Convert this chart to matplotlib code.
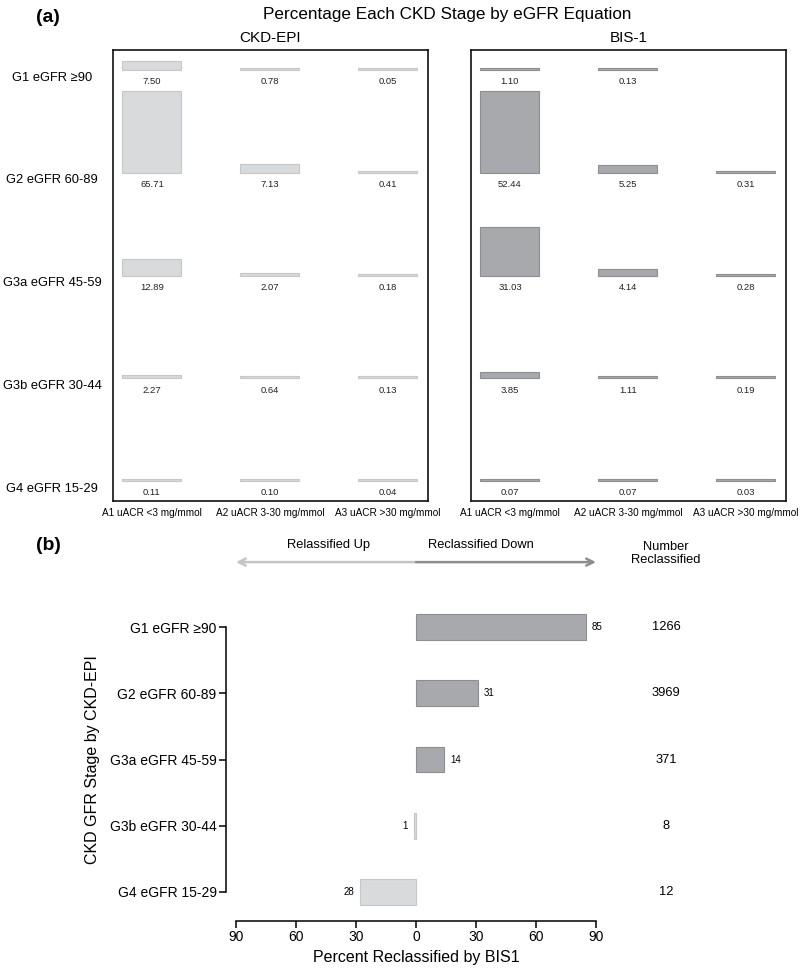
import matplotlib
matplotlib.use("Agg")
import matplotlib.pyplot as plt
import matplotlib.transforms as mtransforms

plt.rcParams['font.family'] = ['Liberation Sans', 'DejaVu Sans']

# data
stages = ["G1 eGFR \u226590", "G2 eGFR 60-89", "G3a eGFR 45-59",
          "G3b eGFR 30-44", "G4 eGFR 15-29"]
acr_labels = ["A1 uACR <3 mg/mmol", "A2 uACR 3-30 mg/mmol", "A3 uACR >30 mg/mmol"]
ckd_epi_pct = [[7.50, 0.78, 0.05],
               [65.71, 7.13, 0.41],
               [12.89, 2.07, 0.18],
               [2.27, 0.64, 0.13],
               [0.11, 0.10, 0.04]]
bis1_pct = [[1.10, 0.13, None],
            [52.44, 5.25, 0.31],
            [31.03, 4.14, 0.28],
            [3.85, 1.11, 0.19],
            [0.07, 0.07, 0.03]]
reclass_pct = [85, 31, 14, -1, -28]
reclass_n = [1266, 3969, 371, 8, 12]

LIGHT, LIGHT_EDGE = "#d9dadc", "#c6c7c9"
DARK, DARK_EDGE = "#a8a9ac", "#8d8e92"

W, H = 800, 968
fig = plt.figure(figsize=(W / 100, H / 100), dpi=100)


def px_box(x0, y0, x1, y1):
    # pixel box (top-left origin) -> figure fraction
    return [x0 / W, (H - y1) / H, (x1 - x0) / W, (y1 - y0) / H]


def grid_panel(ax, values, fill, edge, title):
    nrow = len(values)
    vmax = max(v for row in values for v in row if v is not None)
    scale = 0.8 / vmax
    for i, row in enumerate(values):
        base = nrow - 1 - i
        for j, v in enumerate(row):
            if v is None:
                continue
            h = max(v * scale, 0.018)
            ax.bar(j, h, width=0.5, bottom=base, color=fill, edgecolor=edge,
                   linewidth=0.8)
            ax.text(j, base - 0.115, f"{v:.2f}", ha="center", va="center",
                    fontsize=6.8, color="#222222")
    ax.set_xlim(-0.33, 2.34)
    ax.set_ylim(-0.195, nrow - 1 + 0.195)
    ax.set_xticks([])
    ax.set_yticks([])
    for s in ax.spines.values():
        s.set_linewidth(1.2)
        s.set_color("#111111")
    ax.set_title(title, fontsize=11, pad=6)
    for j, lab in enumerate(acr_labels):
        ax.text(j, -0.31, lab, ha="center", va="center", fontsize=7.2,
                clip_on=False)


ax1 = fig.add_axes(px_box(113, 50, 428, 501))
ax2 = fig.add_axes(px_box(471, 50, 786, 501))
grid_panel(ax1, ckd_epi_pct, LIGHT, LIGHT_EDGE, "CKD-EPI")
grid_panel(ax2, bis1_pct, DARK, DARK_EDGE, "BIS-1")

tr = mtransforms.blended_transform_factory(fig.transFigure, ax1.transData)
for i, lab in enumerate(stages):
    ax1.text(52 / W, len(stages) - 1 - i - 0.075, lab, transform=tr,
             ha="center", va="center", fontsize=9.3)

fig.text(48 / W, 1 - 17 / H, "(a)", fontsize=14, fontweight="bold",
         ha="center", va="center")
fig.text(447 / W, 1 - 14 / H, "Percentage Each CKD Stage by eGFR Equation",
         fontsize=12.3, ha="center", va="center")

# panel (b)
ax3 = fig.add_axes(px_box(236, 600, 596, 910))
ypos = list(range(len(stages) - 1, -1, -1))
colors = [DARK if v > 0 else LIGHT for v in reclass_pct]
edges = [DARK_EDGE if v > 0 else LIGHT_EDGE for v in reclass_pct]
ax3.barh(ypos, reclass_pct, height=0.39, color=colors, edgecolor=edges,
         linewidth=0.8)
for y, v, n in zip(ypos, reclass_pct, reclass_n):
    if v > 0:
        ax3.text(v + 3, y, str(abs(v)), ha="left", va="center", fontsize=7)
    else:
        ax3.text(v - 3, y, str(abs(v)), ha="right", va="center", fontsize=7)
    ax3.text(125, y, str(n), ha="center", va="center", fontsize=9.3,
             clip_on=False)

ax3.set_xlim(-90, 90)
ax3.set_ylim(-0.272, 4.408)
ax3.set_xticks(range(-90, 91, 30))
ax3.set_xticklabels([str(abs(t)) for t in range(-90, 91, 30)], fontsize=10.5)
ax3.set_yticks(ypos)
ax3.set_yticklabels(stages, fontsize=8.4)
ax3.spines["top"].set_visible(False)
ax3.spines["right"].set_visible(False)
ax3.spines["left"].set_position(("outward", 7))
ax3.spines["left"].set_bounds(0, 4)
ax3.spines["bottom"].set_position(("outward", 8))
ax3.spines["bottom"].set_bounds(-90, 90)
for s in ("left", "bottom"):
    ax3.spines[s].set_linewidth(1.1)
ax3.tick_params(axis="both", length=5, width=1.1)
ax3.tick_params(axis="x", pad=1.5)
ax3.tick_params(axis="y", pad=2)
ax3.set_xlabel("Percent Reclassified by BIS1", fontsize=11.5, labelpad=4)

ax3.annotate("", xy=(-90, 4.98), xytext=(0, 4.98), annotation_clip=False,
             arrowprops=dict(arrowstyle="->,head_length=0.5,head_width=0.25",
                             color="#c4c5c7", lw=1.8, shrinkA=0, shrinkB=0))
ax3.annotate("", xy=(90, 4.98), xytext=(0, 4.98), annotation_clip=False,
             arrowprops=dict(arrowstyle="->,head_length=0.5,head_width=0.25",
                             color="#8d8e92", lw=1.8, shrinkA=0, shrinkB=0))
ax3.text(-23, 5.24, "Relassified Up", ha="right", va="center", fontsize=9.3,
         clip_on=False)
ax3.text(6, 5.24, "Reclassified Down", ha="left", va="center", fontsize=9.3,
         clip_on=False)
ax3.text(125, 5.11, "Number\nReclassified", ha="center", va="center",
         fontsize=9.3, clip_on=False, linespacing=1.1)

fig.text(92 / W, 1 - 760 / H, "CKD GFR Stage by CKD-EPI", rotation=90,
         ha="center", va="center", fontsize=11.5)
fig.text(48 / W, 1 - 546 / H, "(b)", fontsize=14, fontweight="bold",
         ha="center", va="center")

fig.savefig("out.png", dpi=100)
